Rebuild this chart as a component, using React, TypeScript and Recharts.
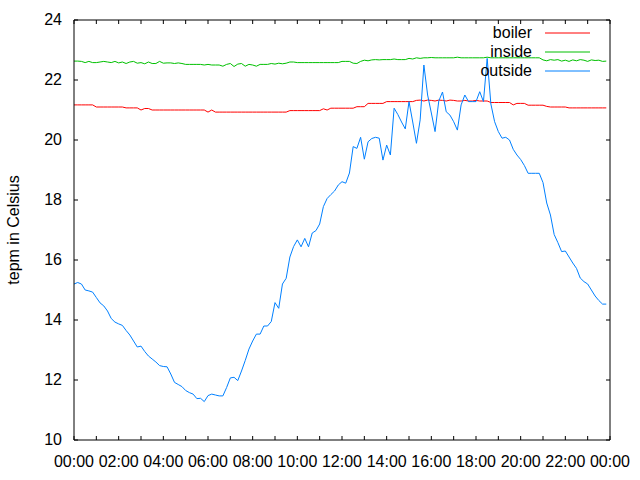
import React from "react";
import { LineChart, Line, XAxis, YAxis, Legend } from "recharts";

// samples every 10 minutes, 00:00 .. 23:50
const boiler = [
  21.17, 21.17, 21.17, 21.17, 21.17, 21.17, 21.1, 21.1, 21.1, 21.1,
  21.1, 21.1, 21.1, 21.1, 21.07, 21.07, 21.07, 21.07, 21.0, 21.05,
  21.05, 21.0, 21.0, 21.0, 21.0, 21.0, 21.0, 21.0, 21.0, 21.0,
  21.0, 21.0, 21.0, 21.0, 21.0, 21.0, 20.93, 21.0, 20.93, 20.93,
  20.93, 20.93, 20.93, 20.93, 20.93, 20.93, 20.93, 20.93, 20.93, 20.93,
  20.93, 20.93, 20.93, 20.93, 20.93, 20.93, 20.93, 20.93, 20.98, 20.98,
  20.98, 20.98, 20.98, 20.98, 20.98, 20.98, 20.98, 21.04, 21.0, 21.06,
  21.06, 21.06, 21.06, 21.06, 21.06, 21.06, 21.11, 21.11, 21.11, 21.22,
  21.22, 21.22, 21.22, 21.22, 21.28, 21.28, 21.28, 21.28, 21.28, 21.28,
  21.28, 21.28, 21.32, 21.33, 21.3, 21.33, 21.32, 21.3, 21.33, 21.32,
  21.3, 21.33, 21.32, 21.3, 21.3, 21.32, 21.3, 21.3, 21.32, 21.3,
  21.3, 21.3, 21.25, 21.25, 21.25, 21.25, 21.25, 21.25, 21.17, 21.22,
  21.22, 21.22, 21.16, 21.16, 21.16, 21.16, 21.16, 21.12, 21.1, 21.1,
  21.1, 21.1, 21.1, 21.07, 21.07, 21.07, 21.07, 21.07, 21.07, 21.07,
  21.07, 21.07, 21.07, 21.07,
];

const inside = [
  22.63, 22.63, 22.62, 22.58, 22.62, 22.58, 22.58, 22.6, 22.62, 22.6,
  22.58, 22.62, 22.57, 22.6, 22.55, 22.6, 22.62, 22.56, 22.58, 22.54,
  22.6, 22.55, 22.55, 22.62, 22.56, 22.57, 22.57, 22.55, 22.57, 22.55,
  22.52, 22.52, 22.52, 22.52, 22.52, 22.5, 22.52, 22.5, 22.5, 22.5,
  22.46, 22.52, 22.55, 22.45, 22.53, 22.55, 22.46, 22.52, 22.5, 22.46,
  22.52, 22.52, 22.52, 22.55, 22.53, 22.56, 22.54, 22.56, 22.6, 22.6,
  22.58, 22.58, 22.58, 22.58, 22.58, 22.58, 22.58, 22.58, 22.58, 22.58,
  22.58, 22.58, 22.62, 22.62, 22.62, 22.56, 22.55, 22.62, 22.66, 22.64,
  22.67, 22.68, 22.67, 22.68, 22.68, 22.68, 22.7, 22.68, 22.68, 22.68,
  22.72, 22.7, 22.74, 22.72, 22.74, 22.74, 22.75, 22.74, 22.74, 22.74,
  22.74, 22.74, 22.74, 22.76, 22.74, 22.74, 22.74, 22.74, 22.74, 22.74,
  22.74, 22.76, 22.74, 22.74, 22.74, 22.74, 22.74, 22.74, 22.74, 22.74,
  22.74, 22.74, 22.74, 22.74, 22.74, 22.74, 22.67, 22.64, 22.68, 22.66,
  22.68, 22.63, 22.66, 22.62, 22.67, 22.64, 22.68, 22.66, 22.62, 22.67,
  22.65, 22.66, 22.62, 22.63,
];

const outside = [
  15.2, 15.25, 15.2, 15.0, 14.97, 14.93, 14.75, 14.57, 14.47, 14.3,
  14.05, 13.93, 13.87, 13.82, 13.65, 13.5, 13.3, 13.1, 13.13, 12.95,
  12.8, 12.7, 12.6, 12.48, 12.45, 12.44, 12.2, 11.92, 11.85, 11.78,
  11.65, 11.58, 11.53, 11.38, 11.39, 11.28, 11.48, 11.53, 11.5, 11.47,
  11.47, 11.75, 12.07, 12.09, 11.98, 12.3, 12.65, 13.03, 13.3, 13.53,
  13.53, 13.8, 13.8, 13.95, 14.58, 14.39, 15.2, 15.39, 16.1, 16.45,
  16.67, 16.44, 16.72, 16.44, 16.9, 16.98, 17.2, 17.78, 18.05, 18.18,
  18.3, 18.5, 18.61, 18.56, 18.9, 19.78, 19.72, 20.09, 19.36, 19.94,
  20.05, 20.09, 20.06, 19.33, 19.83, 19.5, 21.06, 20.85, 20.6, 20.37,
  21.28, 20.6, 19.89, 20.67, 22.5, 21.5, 20.9, 20.28, 21.3, 21.6,
  20.94, 20.83, 20.61, 20.33, 21.17, 21.5, 21.28, 21.28, 21.28, 21.61,
  21.28, 22.72, 21.2, 20.61, 20.28, 20.06, 20.09, 20.0, 19.69, 19.5,
  19.35, 19.15, 18.89, 18.89, 18.89, 18.89, 18.58, 17.9, 17.5, 16.85,
  16.58, 16.28, 16.3, 16.1, 15.9, 15.72, 15.4, 15.28, 15.2, 15.0,
  14.8, 14.65, 14.53, 14.53,
];

// minutes since midnight, one tick per hour
const hourTicks = [
  0, 60, 120, 180, 240, 300, 360, 420, 480, 540, 600, 660, 720,
  780, 840, 900, 960, 1020, 1080, 1140, 1200, 1260, 1320, 1380, 1440,
];
const xLabels = [
  "00:00", "02:00", "04:00", "06:00", "08:00", "10:00", "12:00",
  "14:00", "16:00", "18:00", "20:00", "22:00", "00:00",
];
const yTicks = [10, 12, 14, 16, 18, 20, 22, 24];

const FONT = "'Liberation Sans', Arial, sans-serif";
const FS = 16;

const data = outside.map((v, i) => ({
  t: i * 10,
  boiler: boiler[i],
  inside: inside[i],
  outside: v,
}));

const BottomTick = (props: any) => {
  const { x, y, payload } = props;
  const h = payload.value / 60;
  return (
    <g>
      <line x1={x} y1={y} x2={x} y2={y - 4} stroke="#000" />
      {h % 2 === 0 && (
        <text x={x} y={y + 27} textAnchor="middle" fontFamily={FONT} fontSize={FS} fill="#000">
          {xLabels[h / 2]}
        </text>
      )}
    </g>
  );
};

const TopTick = (props: any) => {
  const { x, y } = props;
  return <line x1={x} y1={y} x2={x} y2={y + 4} stroke="#000" />;
};

const LeftTick = (props: any) => {
  const { x, y, payload } = props;
  return (
    <g>
      <line x1={x} y1={y} x2={x + 4} y2={y} stroke="#000" />
      <text x={x - 12} y={y + 5} textAnchor="end" fontFamily={FONT} fontSize={FS} fill="#000">
        {payload.value}
      </text>
    </g>
  );
};

const RightTick = (props: any) => {
  const { x, y } = props;
  return <line x1={x} y1={y} x2={x - 4} y2={y} stroke="#000" />;
};

const renderLegend = (props: any) => {
  const items = props.payload || [];
  return (
    <svg width={640} height={100} style={{ display: "block" }}>
      {items.map((e: any, i: number) => (
        <g key={e.value}>
          <text x={532} y={38 + i * 19} textAnchor="end" fontFamily={FONT} fontSize={FS} fill="#000">
            {e.value}
          </text>
          <line x1={545} x2={590} y1={33 + i * 19} y2={33 + i * 19} stroke={e.color} />
        </g>
      ))}
    </svg>
  );
};

export default function App() {
  return (
    <div style={{ position: "absolute", left: 0, top: 0, width: 640, height: 480, background: "#fff" }}>
      <LineChart width={640} height={480} data={data} margin={{ top: 19, right: 29, bottom: 0, left: 0 }}>
        <XAxis
          dataKey="t"
          type="number"
          domain={[0, 1440]}
          ticks={hourTicks}
          interval={0}
          height={40}
          tickSize={0}
          tickMargin={0}
          tickLine={false}
          axisLine={{ stroke: "#000" }}
          tick={<BottomTick />}
        />
        <XAxis
          xAxisId="top"
          orientation="top"
          dataKey="t"
          type="number"
          domain={[0, 1440]}
          ticks={hourTicks}
          interval={0}
          height={1}
          tickSize={0}
          tickMargin={0}
          tickLine={false}
          axisLine={{ stroke: "#000" }}
          tick={<TopTick />}
        />
        <YAxis
          type="number"
          domain={[10, 24]}
          ticks={yTicks}
          interval={0}
          width={74}
          tickSize={0}
          tickMargin={0}
          tickLine={false}
          axisLine={{ stroke: "#000" }}
          tick={<LeftTick />}
          label={{
            content: (p: any) => {
              const vb = p.viewBox;
              const cx = vb.x + 19;
              const cy = vb.y + vb.height / 2;
              return (
                <text
                  x={cx}
                  y={cy}
                  transform={`rotate(-90, ${cx}, ${cy})`}
                  textAnchor="middle"
                  fontFamily={FONT}
                  fontSize={FS}
                  fill="#000"
                >
                  tepm in Celsius
                </text>
              );
            },
          }}
        />
        <YAxis
          yAxisId="right"
          orientation="right"
          type="number"
          domain={[10, 24]}
          ticks={yTicks}
          interval={0}
          width={1}
          tickSize={0}
          tickMargin={0}
          tickLine={false}
          axisLine={{ stroke: "#000" }}
          tick={<RightTick />}
        />
        <Legend
          layout="vertical"
          align="center"
          verticalAlign="middle"
          wrapperStyle={{ left: 0, top: 0, width: 640, height: 100 }}
          content={renderLegend}
        />
        <Line type="linear" dataKey="boiler" name="boiler" stroke="#ff0000" strokeWidth={1} dot={false} isAnimationActive={false} />
        <Line
          type="linear"
          dataKey="inside"
          name="inside"
          xAxisId="top"
          yAxisId="right"
          stroke="#00c000"
          strokeWidth={1}
          dot={false}
          isAnimationActive={false}
        />
        <Line type="linear" dataKey="outside" name="outside" stroke="#0080ff" strokeWidth={1} dot={false} isAnimationActive={false} />
      </LineChart>
    </div>
  );
}
